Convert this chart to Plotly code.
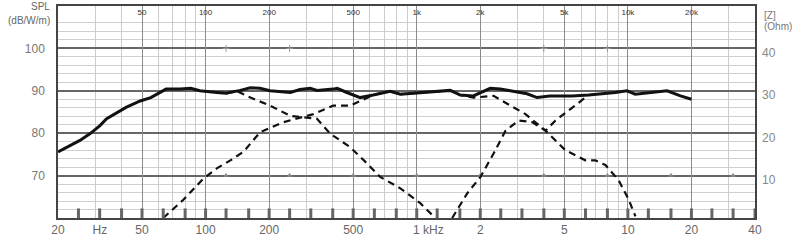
import math
import plotly.graph_objects as go

# ---- data ----
spl_freq = [20, 25.4, 28.4, 31.6, 34, 42, 49, 55, 65, 76, 85, 94, 113, 125, 146, 163, 181,
            202, 252, 280, 313, 337, 402, 420, 467, 540, 622, 748, 836, 1039, 1159, 1441,
            1608, 1853, 2230, 2487, 2774, 3329, 3713, 4272, 5440, 6520, 8720, 9900, 10840,
            13200, 15340, 17740, 20000]
spl_db = [75.6, 78.3, 79.9, 81.8, 83.4, 86.1, 87.6, 88.4, 90.4, 90.4, 90.6, 90.0, 89.6, 89.4,
          90.1, 90.7, 90.6, 90.0, 89.6, 90.3, 90.6, 90.1, 90.4, 90.6, 89.6, 88.4, 89.0, 89.9,
          89.2, 89.6, 89.8, 90.1, 89.0, 88.8, 90.6, 90.4, 90.0, 89.3, 88.4, 88.8, 88.8, 89.0,
          89.6, 90.0, 89.2, 89.6, 90.0, 88.8, 88.0]

woofer_freq = [125, 141, 163, 202, 252, 337, 389, 484, 581, 671, 836, 1039, 1224]
woofer_db = [89.4, 89.9, 88.4, 86.5, 84.1, 83.4, 79.9, 76.7, 72.9, 69.7, 67.0, 63.5, 60.0]

mid_freq = [63, 78.5, 97.7, 113, 131, 151, 181, 234, 324, 402, 484, 622, 748, 836, 1039,
            1159, 1441, 1608, 1859, 2312, 2634, 3274, 4074, 5056, 6292, 7012, 7822, 9046,
            10094, 10856]
mid_db = [60.0, 64.3, 69.3, 71.7, 73.6, 75.6, 80.2, 82.6, 84.5, 86.5, 86.5, 89.0, 89.9, 89.2,
          89.6, 89.8, 90.1, 89.0, 88.4, 88.8, 87.2, 84.5, 80.6, 76.0, 73.6, 73.6, 72.5, 68.9,
          64.3, 60.4]

tweeter_freq = [1472, 1734, 2004, 2312, 2634, 3040, 3520, 4074, 4540, 5440, 6292, 6520]
tweeter_db = [60.0, 65.8, 69.7, 75.2, 80.6, 83.0, 82.6, 80.6, 83.0, 86.1, 88.4, 89.0]

third_octave = [20, 25, 31.5, 40, 50, 63, 80, 100, 125, 160, 200, 250, 315, 400, 500, 630, 800,
                1000, 1250, 1600, 2000, 2500, 3150, 4000, 5000, 6300, 8000, 10000, 12500,
                16000, 20000, 25000, 31500, 40000]
octave_marks = [125, 250, 500, 1000, 2000, 4000, 8000, 16000, 31500]
upper_marks = [125, 250, 4000, 8000]

bottom_tickvals = [20, 31.6, 50, 100, 200, 500, 1000, 2000, 5000, 10000, 20000, 40000]
bottom_ticktext = ["20", "Hz", "50", "100", "200", "500", "\u00a0" * 7 + "1 kHz", "2", "5",
                   "10", "20", "40"]
top_tickvals = [50, 100, 200, 500, 1000, 2000, 5000, 10000, 20000]
top_ticktext = ["50", "100", "200", "500", "1k", "2k", "5k", "10k", "20k"]
minor_freqs = [30, 40, 60, 70, 80, 90, 300, 400, 600, 700, 800, 900, 3000, 4000, 6000, 7000,
               8000, 9000, 30000]
spl_ticks = [70, 80, 90, 100]
spl_minor = [62, 64, 66, 68, 72, 74, 76, 78, 82, 84, 86, 88, 92, 94, 96, 98, 102, 104, 106, 108]
ohm_ticks = [10, 20, 30, 40]

FONT = "Liberation Sans, Arial, sans-serif"
xr = [math.log10(20), math.log10(40000)]

fig = go.Figure()

# 1/3 octave markers on the bottom edge
fig.add_trace(go.Scatter(x=third_octave, y=[61.1] * len(third_octave), mode="markers",
                         xaxis="x2", yaxis="y", cliponaxis=False, hoverinfo="skip",
                         marker=dict(symbol="line-ns", size=7,
                                     line=dict(width=3, color="#666666"))))
fig.add_trace(go.Scatter(x=octave_marks, y=[70] * len(octave_marks), mode="markers",
                         hoverinfo="skip",
                         marker=dict(symbol="triangle-up", size=5, color="#888888")))
fig.add_trace(go.Scatter(x=upper_marks, y=[100] * len(upper_marks), mode="markers",
                         hoverinfo="skip",
                         marker=dict(symbol="cross-thin", size=5,
                                     line=dict(width=1, color="#999999"))))

dash = "7px,5px"
fig.add_trace(go.Scatter(x=woofer_freq, y=woofer_db, mode="lines",
                         line=dict(color="#111111", width=2.2, dash=dash)))
fig.add_trace(go.Scatter(x=mid_freq, y=mid_db, mode="lines",
                         line=dict(color="#111111", width=2.2, dash=dash)))
fig.add_trace(go.Scatter(x=tweeter_freq, y=tweeter_db, mode="lines",
                         line=dict(color="#111111", width=2.2, dash=dash)))
fig.add_trace(go.Scatter(x=spl_freq, y=spl_db, mode="lines",
                         line=dict(color="#111111", width=3)))
fig.add_trace(go.Scatter(x=[], y=[], yaxis="y2", hoverinfo="skip"))

fig.update_layout(
    width=800, height=245,
    margin=dict(l=58, r=45, t=4, b=27, pad=0),
    paper_bgcolor="white", plot_bgcolor="white",
    showlegend=False,
    font=dict(family=FONT),
    xaxis=dict(type="log", range=xr, tickmode="array", tickvals=bottom_tickvals,
               ticktext=bottom_ticktext, showgrid=False, ticks="",
               tickfont=dict(size=12, color="#666666"),
               showline=True, linecolor="#444444", linewidth=1.5, mirror=True,
               zeroline=False),
    xaxis2=dict(type="log", range=xr, overlaying="x", side="top", anchor="y",
                tickmode="array", tickvals=top_tickvals, ticktext=top_ticktext,
                ticklabelposition="inside", ticks="",
                tickfont=dict(size=8, color="#333333"),
                showgrid=True, gridcolor="#8a8a8a", gridwidth=1,
                minor=dict(tickvals=minor_freqs, showgrid=True, gridcolor="#cccccc",
                           gridwidth=1, ticks=""),
                showline=False, zeroline=False),
    yaxis=dict(range=[60, 110], tickmode="array", tickvals=spl_ticks,
               ticktext=[str(v) for v in spl_ticks], ticks="",
               tickfont=dict(size=12, color="#777777"), ticklabelstandoff=9,
               showgrid=True, gridcolor="#666666", gridwidth=1.5,
               minor=dict(tickvals=spl_minor, showgrid=True, gridcolor="#cfcfcf",
                          gridwidth=1, ticks=""),
               showline=True, linecolor="#444444", linewidth=1.5, mirror=True,
               zeroline=False),
    yaxis2=dict(range=[1, 51], overlaying="y", side="right", tickmode="array",
                tickvals=ohm_ticks, ticktext=[str(v) for v in ohm_ticks], ticks="",
                tickfont=dict(size=12, color="#888888"), ticklabelstandoff=6,
                showgrid=False, zeroline=False, showline=False),
    annotations=[
        dict(text="SPL", xref="paper", yref="paper", x=0, y=1, xanchor="right",
             yanchor="middle", xshift=-6, yshift=0, showarrow=False,
             font=dict(size=10, color="#666666")),
        dict(text="(dB/W/m)", xref="paper", yref="paper", x=0, y=1, xanchor="right",
             yanchor="middle", xshift=-6, yshift=-14, showarrow=False,
             font=dict(size=10, color="#666666")),
        dict(text="[Z]", xref="paper", yref="paper", x=1, y=1, xanchor="left",
             yanchor="middle", xshift=7, yshift=-9, showarrow=False,
             font=dict(size=10, color="#777777")),
        dict(text="(Ohm)", xref="paper", yref="paper", x=1, y=1, xanchor="left",
             yanchor="middle", xshift=7, yshift=-20, showarrow=False,
             font=dict(size=10, color="#777777")),
    ],
)

fig.write_html("out.html")
